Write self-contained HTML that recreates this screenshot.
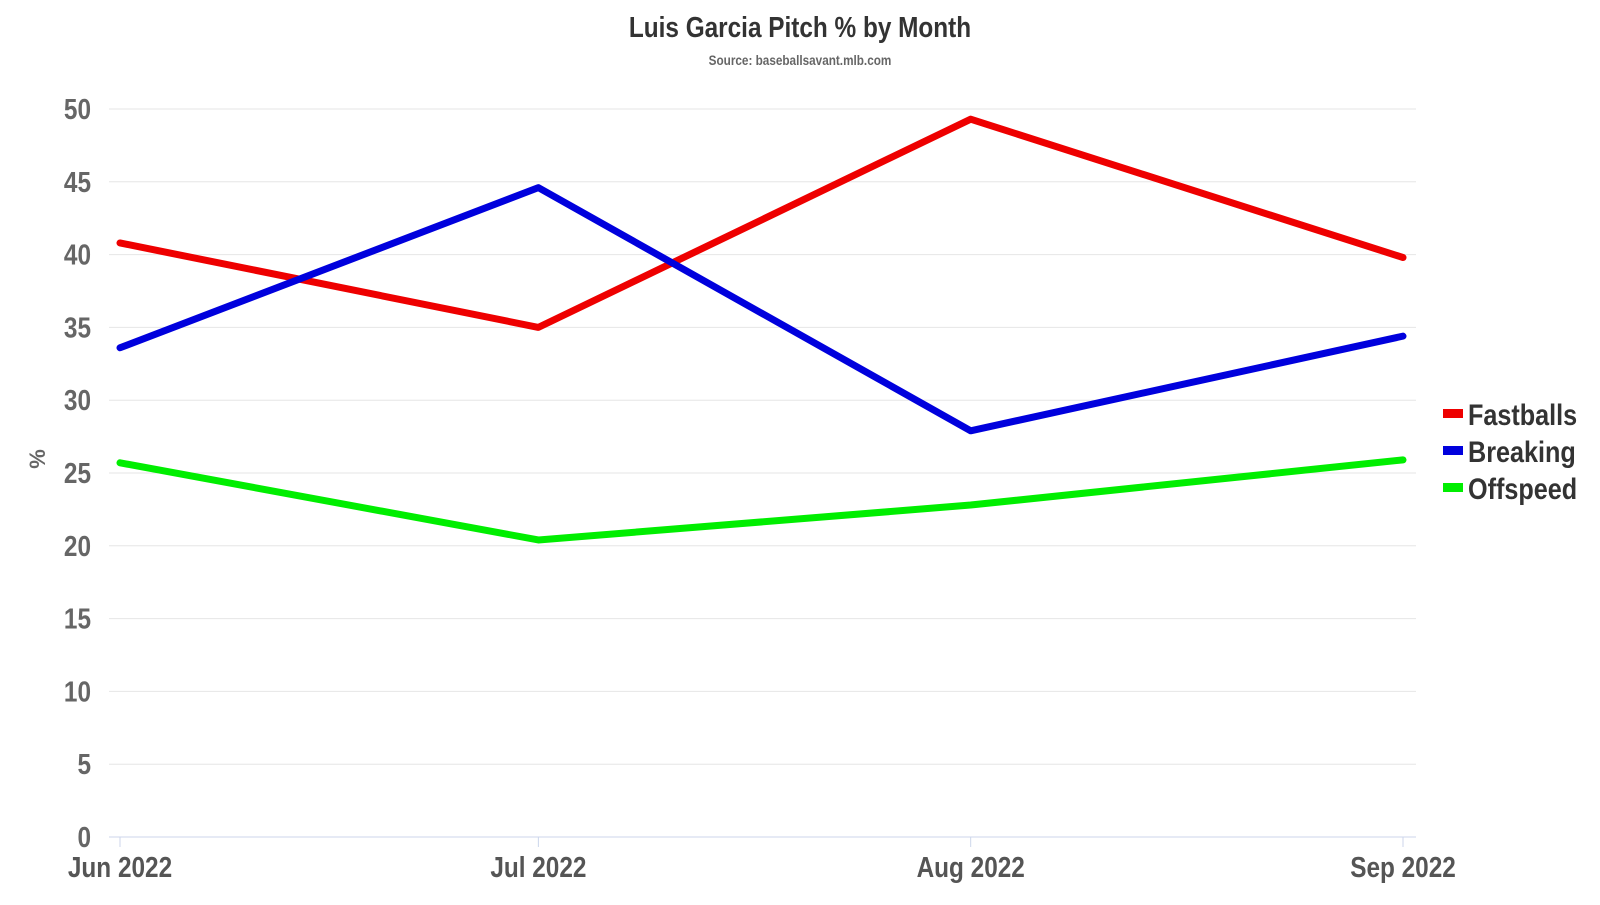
<!DOCTYPE html>
<html><head><meta charset="utf-8">
<style>
body{margin:0;background:#fff;width:1600px;height:900px;overflow:hidden}
svg{font-family:"Liberation Sans Narrow","Liberation Sans",sans-serif;font-weight:bold}
</style></head>
<body>
<svg id="chart" width="1600" height="900">
<g id="texts"></g><g id="grid"></g><g id="series"></g><g id="legend"></g>
</svg>
<script>
const categories=["Jun 2022","Jul 2022","Aug 2022","Sep 2022"];
const dates=["2022-06-01","2022-07-01","2022-08-01","2022-09-01"];
const fastballs=[40.8,35.0,49.3,39.8];
const breaking=[33.6,44.6,27.9,34.4];
const offspeed=[25.7,20.4,22.8,25.9];
const yTicks=[0,5,10,15,20,25,30,35,40,45,50];
const seriesNames=["Fastballs","Breaking","Offspeed"];
const NS="http://www.w3.org/2000/svg";
const y=v=>837-v*(728/50);
const tms=dates.map(d=>Date.parse(d));
const t0=tms[0],t1=tms[tms.length-1];
const x=i=>120+(tms[i]-t0)/(t1-t0)*1283;
function mk(t,a,p){const e=document.createElementNS(NS,t);for(const k in a)e.setAttribute(k,a[k]);p.appendChild(e);return e;}
function txt(p,s,px,py,size,fill,anchor,sx){
 const e=mk('text',{transform:`translate(${px},${py}) scale(${sx||0.84},1)`,'font-size':size,fill:fill,'text-anchor':anchor},p);
 e.textContent=s;return e;
}
const T=document.getElementById('texts');
let e=txt(T,'Luis Garcia Pitch % by Month',800,37,29,'#333','middle');


e=txt(T,'Source: baseballsavant.mlb.com',800,65,14,'#666','middle');


e=mk('text',{transform:'translate(45,459) rotate(-90)','text-anchor':'middle','font-size':22,fill:'#666'},T);
e.textContent='%';


const g=document.getElementById('grid');
yTicks.forEach(v=>{
 const l=mk('line',{x1:109,x2:1416,y1:y(v),y2:y(v),stroke:v===0?'#ccd6eb':'#e6e6e6','stroke-width':1},g);
 
 
 const t=txt(g,String(v),91,y(v)+10,29,'#666','end');
 
 
});
categories.forEach((c,i)=>{
 const tk=mk('line',{x1:x(i),x2:x(i),y1:837,y2:847,stroke:'#ccd6eb'},g);
 
 
 const t=txt(g,c,x(i),877,29,'#555','middle');
 
 
});
const data=[fastballs,breaking,offspeed];
const colors=['#ee0000','#0000dd','#00ee00'];
const s=document.getElementById('series');
data.forEach((d,k)=>{
 const p=mk('polyline',{points:d.map((v,i)=>x(i)+','+y(v)).join(' '),fill:'none',stroke:colors[k],'stroke-width':7,'stroke-linejoin':'round','stroke-linecap':'round'},s);
 
 
});
const lg=document.getElementById('legend');
seriesNames.forEach((n,k)=>{
 const yy=414+k*37;
 const r=mk('rect',{x:1443,y:yy-5,width:20,height:9,fill:colors[k]},lg);
 
 
 const t=txt(lg,n,1468,yy+11,30,'#333','start');
 
 
});
</script>
</body></html>
